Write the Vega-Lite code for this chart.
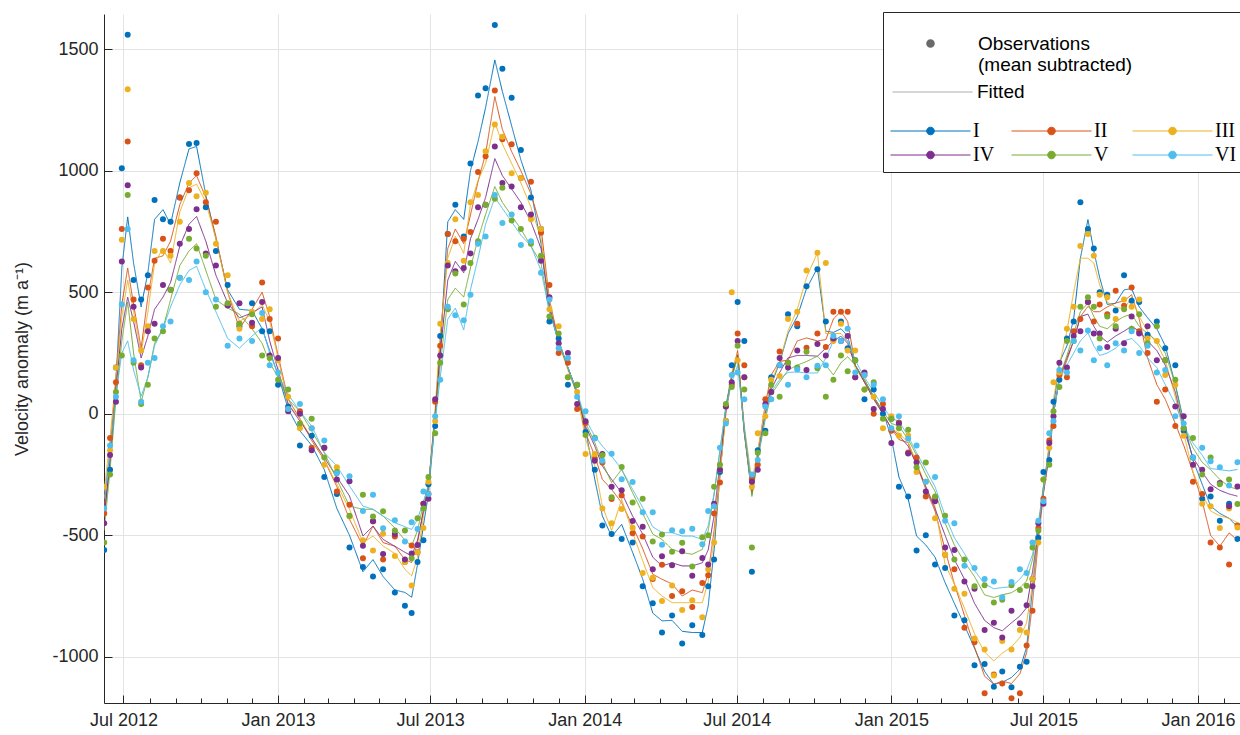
{
"$schema": "https://vega.github.io/schema/vega-lite/v6.json",
"width": 1136, "height": 689,
"autosize": {"type": "none"},
"padding": {"left": 104, "top": 14, "right": 0, "bottom": 32},
"background": "white",
"config": {"view": {"stroke": null}, "font": "Liberation Sans", "axis": {"labelFont": "Liberation Sans", "titleFont": "Liberation Sans"}},
"data": {"values": [
{"d":"2012-06-08","s":"I","f":-420,"o":-560},{"d":"2012-06-15","s":"I","f":-200,"o":-230},{"d":"2012-06-22","s":"I","f":130,"o":190},{"d":"2012-06-29","s":"I","f":600,"o":1010},{"d":"2012-07-06","s":"I","f":810,"o":1560},{"d":"2012-07-13","s":"I","f":620,"o":550},{"d":"2012-07-22","s":"I","f":440,"o":470},{"d":"2012-07-30","s":"I","f":580,"o":570},{"d":"2012-08-07","s":"I","f":800,"o":880},{"d":"2012-08-17","s":"I","f":840,"o":800},{"d":"2012-08-26","s":"I","f":780,"o":790},{"d":"2012-09-06","s":"I","f":950,"o":890},{"d":"2012-09-17","s":"I","f":1090,"o":1110},{"d":"2012-09-26","s":"I","f":1100,"o":1114},{"d":"2012-10-07","s":"I","f":900,"o":850},{"d":"2012-10-19","s":"I","f":720,"o":670},{"d":"2012-11-02","s":"I","f":510,"o":530},{"d":"2012-11-16","s":"I","f":430,"o":360},{"d":"2012-12-01","s":"I","f":425,"o":455},{"d":"2012-12-13","s":"I","f":350,"o":340},{"d":"2012-12-22","s":"I","f":260,"o":340},{"d":"2013-01-01","s":"I","f":160,"o":120},
{"d":"2013-01-13","s":"I","f":20,"o":30},{"d":"2013-01-27","s":"I","f":-70,"o":-130},{"d":"2013-02-10","s":"I","f":-130,"o":-90},{"d":"2013-02-25","s":"I","f":-230,"o":-260},{"d":"2013-03-12","s":"I","f":-390,"o":-330},{"d":"2013-03-27","s":"I","f":-500,"o":-550},{"d":"2013-04-12","s":"I","f":-650,"o":-630},{"d":"2013-04-24","s":"I","f":-600,"o":-670},{"d":"2013-05-06","s":"I","f":-670,"o":-640},{"d":"2013-05-20","s":"I","f":-725,"o":-735},{"d":"2013-06-01","s":"I","f":-735,"o":-790},{"d":"2013-06-09","s":"I","f":-755,"o":-820},{"d":"2013-06-16","s":"I","f":-620,"o":-610},{"d":"2013-06-23","s":"I","f":-460,"o":-520},{"d":"2013-06-29","s":"I","f":-330,"o":-290},
{"d":"2013-07-07","s":"I","f":-20,"o":-50},{"d":"2013-07-13","s":"I","f":260,"o":320},{"d":"2013-07-22","s":"I","f":790,"o":740},{"d":"2013-07-31","s":"I","f":840,"o":860},{"d":"2013-08-10","s":"I","f":800,"o":730},{"d":"2013-08-18","s":"I","f":1000,"o":1030},{"d":"2013-08-27","s":"I","f":1120,"o":1310},{"d":"2013-09-05","s":"I","f":1260,"o":1340},{"d":"2013-09-16","s":"I","f":1456,"o":1600},{"d":"2013-09-25","s":"I","f":1326,"o":1420},{"d":"2013-10-06","s":"I","f":1185,"o":1300},{"d":"2013-10-17","s":"I","f":1045,"o":1085},{"d":"2013-10-29","s":"I","f":920,"o":890},{"d":"2013-11-10","s":"I","f":700,"o":760},{"d":"2013-11-20","s":"I","f":430,"o":380},{"d":"2013-12-01","s":"I","f":290,"o":310},{"d":"2013-12-12","s":"I","f":190,"o":120},{"d":"2013-12-23","s":"I","f":90,"o":120},
{"d":"2014-01-02","s":"I","f":-65,"o":-75},{"d":"2014-01-13","s":"I","f":-270,"o":-230},{"d":"2014-01-22","s":"I","f":-420,"o":-460},{"d":"2014-02-02","s":"I","f":-505,"o":-495},{"d":"2014-02-14","s":"I","f":-455,"o":-515},{"d":"2014-02-27","s":"I","f":-570,"o":-530},{"d":"2014-03-11","s":"I","f":-680,"o":-710},{"d":"2014-03-23","s":"I","f":-820,"o":-780},{"d":"2014-04-03","s":"I","f":-852,"o":-900},{"d":"2014-04-15","s":"I","f":-850,"o":-830},{"d":"2014-04-27","s":"I","f":-895,"o":-945},{"d":"2014-05-09","s":"I","f":-900,"o":-870},{"d":"2014-05-21","s":"I","f":-900,"o":-910},{"d":"2014-05-28","s":"I","f":-790,"o":-710},{"d":"2014-06-04","s":"I","f":-560,"o":-600},{"d":"2014-06-11","s":"I","f":-250,"o":-240},{"d":"2014-06-18","s":"I","f":30,"o":-30},{"d":"2014-06-25","s":"I","f":160,"o":200},{"d":"2014-07-02","s":"I","f":250,"o":460},
{"d":"2014-07-10","s":"I","f":-80,"o":300},{"d":"2014-07-19","s":"I","f":-320,"o":-650},{"d":"2014-07-26","s":"I","f":-170,"o":-150},{"d":"2014-08-04","s":"I","f":0,"o":-70},{"d":"2014-08-11","s":"I","f":120,"o":150},{"d":"2014-08-21","s":"I","f":210,"o":200},{"d":"2014-08-31","s":"I","f":330,"o":410},{"d":"2014-09-11","s":"I","f":400,"o":360},{"d":"2014-09-22","s":"I","f":515,"o":525},{"d":"2014-10-05","s":"I","f":600,"o":595},{"d":"2014-10-15","s":"I","f":340,"o":380},{"d":"2014-10-24","s":"I","f":335,"o":305},{"d":"2014-11-02","s":"I","f":350,"o":380},{"d":"2014-11-10","s":"I","f":320,"o":270},{"d":"2014-11-19","s":"I","f":200,"o":220},{"d":"2014-11-30","s":"I","f":130,"o":60},{"d":"2014-12-11","s":"I","f":70,"o":100},{"d":"2014-12-22","s":"I","f":10,"o":0},{"d":"2015-01-01","s":"I","f":-100,"o":-20},
{"d":"2015-01-10","s":"I","f":-260,"o":-300},{"d":"2015-01-21","s":"I","f":-350,"o":-340},{"d":"2015-01-31","s":"I","f":-503,"o":-563},{"d":"2015-02-11","s":"I","f":-540,"o":-500},{"d":"2015-02-22","s":"I","f":-590,"o":-620},{"d":"2015-03-06","s":"I","f":-695,"o":-635},{"d":"2015-03-17","s":"I","f":-780,"o":-830},{"d":"2015-03-29","s":"I","f":-870,"o":-850},{"d":"2015-04-10","s":"I","f":-965,"o":-1035},{"d":"2015-04-22","s":"I","f":-1060,"o":-1030},{"d":"2015-05-03","s":"I","f":-1113,"o":-1123},{"d":"2015-05-13","s":"I","f":-1105,"o":-1060},{"d":"2015-05-24","s":"I","f":-1085,"o":-1125},{"d":"2015-06-03","s":"I","f":-1051,"o":-1041},{"d":"2015-06-11","s":"I","f":-960,"o":-1020},{"d":"2015-06-18","s":"I","f":-720,"o":-680},{"d":"2015-06-25","s":"I","f":-480,"o":-510},{"d":"2015-07-01","s":"I","f":-300,"o":-240},
{"d":"2015-07-08","s":"I","f":-140,"o":-190},{"d":"2015-07-13","s":"I","f":30,"o":50},{"d":"2015-07-20","s":"I","f":210,"o":140},{"d":"2015-07-29","s":"I","f":280,"o":310},{"d":"2015-08-06","s":"I","f":390,"o":380},{"d":"2015-08-14","s":"I","f":640,"o":870},{"d":"2015-08-23","s":"I","f":799,"o":760},{"d":"2015-08-30","s":"I","f":670,"o":680},{"d":"2015-09-06","s":"I","f":560,"o":500},{"d":"2015-09-15","s":"I","f":450,"o":490},{"d":"2015-09-25","s":"I","f":455,"o":425},{"d":"2015-10-05","s":"I","f":510,"o":570},{"d":"2015-10-14","s":"I","f":515,"o":465},{"d":"2015-10-23","s":"I","f":440,"o":460},{"d":"2015-11-02","s":"I","f":395,"o":325},{"d":"2015-11-13","s":"I","f":350,"o":380},{"d":"2015-11-23","s":"I","f":280,"o":270},{"d":"2015-12-05","s":"I","f":120,"o":200},{"d":"2015-12-15","s":"I","f":-30,"o":-70},{"d":"2015-12-26","s":"I","f":-190,"o":-180},{"d":"2016-01-06","s":"I","f":-290,"o":-350},{"d":"2016-01-16","s":"I","f":-380,"o":-340},{"d":"2016-01-27","s":"I","f":-410,"o":-440},{"d":"2016-02-07","s":"I","f":-430,"o":-370},{"d":"2016-02-17","s":"I","f":-465,"o":-515},

{"d":"2012-06-08","s":"II","f":-380,"o":-410},{"d":"2012-06-15","s":"II","f":-150,"o":-100},{"d":"2012-06-22","s":"II","f":150,"o":130},{"d":"2012-06-29","s":"II","f":450,"o":760},{"d":"2012-07-06","s":"II","f":600,"o":1120},{"d":"2012-07-13","s":"II","f":450,"o":470},{"d":"2012-07-22","s":"II","f":270,"o":200},{"d":"2012-07-30","s":"II","f":480,"o":520},{"d":"2012-08-07","s":"II","f":640,"o":630},{"d":"2012-08-17","s":"II","f":650,"o":720},{"d":"2012-08-26","s":"II","f":710,"o":670},{"d":"2012-09-06","s":"II","f":860,"o":890},{"d":"2012-09-17","s":"II","f":950,"o":920},{"d":"2012-09-26","s":"II","f":980,"o":990},{"d":"2012-10-07","s":"II","f":890,"o":870},{"d":"2012-10-19","s":"II","f":730,"o":790},{"d":"2012-11-02","s":"II","f":500,"o":450},{"d":"2012-11-16","s":"II","f":350,"o":370},{"d":"2012-12-01","s":"II","f":430,"o":360},{"d":"2012-12-13","s":"II","f":500,"o":540},{"d":"2012-12-22","s":"II","f":400,"o":390},{"d":"2013-01-01","s":"II","f":240,"o":310},
{"d":"2013-01-13","s":"II","f":60,"o":20},{"d":"2013-01-27","s":"II","f":-20,"o":10},{"d":"2013-02-10","s":"II","f":-110,"o":-140},{"d":"2013-02-25","s":"II","f":-190,"o":-140},{"d":"2013-03-12","s":"II","f":-300,"o":-320},{"d":"2013-03-27","s":"II","f":-434,"o":-374},{"d":"2013-04-12","s":"II","f":-544,"o":-594},{"d":"2013-04-24","s":"II","f":-462,"o":-442},{"d":"2013-05-06","s":"II","f":-530,"o":-600},{"d":"2013-05-20","s":"II","f":-545,"o":-505},{"d":"2013-06-01","s":"II","f":-600,"o":-610},{"d":"2013-06-09","s":"II","f":-612,"o":-542},{"d":"2013-06-16","s":"II","f":-530,"o":-570},{"d":"2013-06-23","s":"II","f":-400,"o":-370},{"d":"2013-06-29","s":"II","f":-300,"o":-330},
{"d":"2013-07-07","s":"II","f":0,"o":50},{"d":"2013-07-13","s":"II","f":300,"o":280},{"d":"2013-07-22","s":"II","f":680,"o":740},{"d":"2013-07-31","s":"II","f":760,"o":710},{"d":"2013-08-10","s":"II","f":700,"o":720},{"d":"2013-08-18","s":"II","f":818,"o":748},{"d":"2013-08-27","s":"II","f":955,"o":995},{"d":"2013-09-05","s":"II","f":1070,"o":1060},{"d":"2013-09-16","s":"II","f":1305,"o":1330},{"d":"2013-09-25","s":"II","f":1170,"o":1130},{"d":"2013-10-06","s":"II","f":1079,"o":1109},{"d":"2013-10-17","s":"II","f":1000,"o":970},{"d":"2013-10-29","s":"II","f":905,"o":955},{"d":"2013-11-10","s":"II","f":765,"o":745},{"d":"2013-11-20","s":"II","f":470,"o":530},{"d":"2013-12-01","s":"II","f":300,"o":250},{"d":"2013-12-12","s":"II","f":190,"o":210},{"d":"2013-12-23","s":"II","f":90,"o":20},
{"d":"2014-01-02","s":"II","f":-78,"o":-38},{"d":"2014-01-13","s":"II","f":-174,"o":-184},{"d":"2014-01-22","s":"II","f":-270,"o":-200},{"d":"2014-02-02","s":"II","f":-311,"o":-351},{"d":"2014-02-14","s":"II","f":-366,"o":-336},{"d":"2014-02-27","s":"II","f":-462,"o":-492},{"d":"2014-03-11","s":"II","f":-555,"o":-505},{"d":"2014-03-23","s":"II","f":-660,"o":-680},{"d":"2014-04-03","s":"II","f":-681,"o":-621},{"d":"2014-04-15","s":"II","f":-700,"o":-750},{"d":"2014-04-27","s":"II","f":-750,"o":-730},{"d":"2014-05-09","s":"II","f":-725,"o":-795},{"d":"2014-05-21","s":"II","f":-736,"o":-696},{"d":"2014-05-28","s":"II","f":-654,"o":-664},{"d":"2014-06-04","s":"II","f":-480,"o":-410},{"d":"2014-06-11","s":"II","f":-243,"o":-283},{"d":"2014-06-18","s":"II","f":0,"o":30},{"d":"2014-06-25","s":"II","f":150,"o":120},{"d":"2014-07-02","s":"II","f":260,"o":330},
{"d":"2014-07-10","s":"II","f":-70,"o":200},{"d":"2014-07-19","s":"II","f":-330,"o":-270},{"d":"2014-07-26","s":"II","f":-160,"o":-210},{"d":"2014-08-04","s":"II","f":40,"o":60},{"d":"2014-08-11","s":"II","f":160,"o":90},{"d":"2014-08-21","s":"II","f":216,"o":256},{"d":"2014-08-31","s":"II","f":220,"o":210},{"d":"2014-09-11","s":"II","f":300,"o":370},{"d":"2014-09-22","s":"II","f":312,"o":272},{"d":"2014-10-05","s":"II","f":300,"o":330},{"d":"2014-10-15","s":"II","f":305,"o":275},{"d":"2014-10-24","s":"II","f":390,"o":420},{"d":"2014-11-02","s":"II","f":422,"o":420},{"d":"2014-11-10","s":"II","f":380,"o":420},{"d":"2014-11-19","s":"II","f":200,"o":150},{"d":"2014-11-30","s":"II","f":140,"o":160},{"d":"2014-12-11","s":"II","f":70,"o":0},{"d":"2014-12-22","s":"II","f":0,"o":40},{"d":"2015-01-01","s":"II","f":-60,"o":-70},
{"d":"2015-01-10","s":"II","f":-106,"o":-36},{"d":"2015-01-21","s":"II","f":-119,"o":-159},{"d":"2015-01-31","s":"II","f":-210,"o":-180},{"d":"2015-02-11","s":"II","f":-310,"o":-340},{"d":"2015-02-22","s":"II","f":-400,"o":-350},{"d":"2015-03-06","s":"II","f":-560,"o":-580},{"d":"2015-03-17","s":"II","f":-700,"o":-640},{"d":"2015-03-29","s":"II","f":-830,"o":-880},{"d":"2015-04-10","s":"II","f":-960,"o":-940},{"d":"2015-04-22","s":"II","f":-1080,"o":-1150},{"d":"2015-05-03","s":"II","f":-1113,"o":-1073},{"d":"2015-05-13","s":"II","f":-1100,"o":-1110},{"d":"2015-05-24","s":"II","f":-1110,"o":-1170},{"d":"2015-06-03","s":"II","f":-1070,"o":-1150},{"d":"2015-06-11","s":"II","f":-983,"o":-953},{"d":"2015-06-18","s":"II","f":-780,"o":-810},{"d":"2015-06-25","s":"II","f":-520,"o":-470},{"d":"2015-07-01","s":"II","f":-330,"o":-350},
{"d":"2015-07-08","s":"II","f":-170,"o":-110},{"d":"2015-07-13","s":"II","f":0,"o":-50},{"d":"2015-07-20","s":"II","f":140,"o":160},{"d":"2015-07-29","s":"II","f":220,"o":150},{"d":"2015-08-06","s":"II","f":300,"o":340},{"d":"2015-08-14","s":"II","f":400,"o":390},{"d":"2015-08-23","s":"II","f":442,"o":460},{"d":"2015-08-30","s":"II","f":420,"o":380},{"d":"2015-09-06","s":"II","f":420,"o":450},{"d":"2015-09-15","s":"II","f":440,"o":410},{"d":"2015-09-25","s":"II","f":456,"o":506},{"d":"2015-10-05","s":"II","f":465,"o":445},{"d":"2015-10-14","s":"II","f":490,"o":520},{"d":"2015-10-23","s":"II","f":390,"o":340},{"d":"2015-11-02","s":"II","f":230,"o":250},{"d":"2015-11-13","s":"II","f":120,"o":50},{"d":"2015-11-23","s":"II","f":60,"o":100},{"d":"2015-12-05","s":"II","f":-40,"o":-50},{"d":"2015-12-15","s":"II","f":-130,"o":-60},{"d":"2015-12-26","s":"II","f":-240,"o":-280},{"d":"2016-01-06","s":"II","f":-360,"o":-330},{"d":"2016-01-16","s":"II","f":-500,"o":-530},{"d":"2016-01-27","s":"II","f":-545,"o":-550},{"d":"2016-02-07","s":"II","f":-490,"o":-620},{"d":"2016-02-17","s":"II","f":-520,"o":-460},

{"d":"2012-06-08","s":"III","f":-320,"o":-300},{"d":"2012-06-15","s":"III","f":-100,"o":-150},{"d":"2012-06-22","s":"III","f":150,"o":190},{"d":"2012-06-29","s":"III","f":400,"o":716},{"d":"2012-07-06","s":"III","f":550,"o":1335},{"d":"2012-07-13","s":"III","f":420,"o":390},{"d":"2012-07-22","s":"III","f":250,"o":260},{"d":"2012-07-30","s":"III","f":420,"o":360},{"d":"2012-08-07","s":"III","f":620,"o":670},{"d":"2012-08-17","s":"III","f":680,"o":670},{"d":"2012-08-26","s":"III","f":620,"o":650},{"d":"2012-09-06","s":"III","f":830,"o":790},{"d":"2012-09-17","s":"III","f":930,"o":950},{"d":"2012-09-26","s":"III","f":945,"o":895},{"d":"2012-10-07","s":"III","f":870,"o":910},{"d":"2012-10-19","s":"III","f":720,"o":700},{"d":"2012-11-02","s":"III","f":500,"o":570},{"d":"2012-11-16","s":"III","f":380,"o":350},{"d":"2012-12-01","s":"III","f":410,"o":420},{"d":"2012-12-13","s":"III","f":450,"o":390},{"d":"2012-12-22","s":"III","f":380,"o":430},{"d":"2013-01-01","s":"III","f":230,"o":220},
{"d":"2013-01-13","s":"III","f":40,"o":70},{"d":"2013-01-27","s":"III","f":-20,"o":-60},{"d":"2013-02-10","s":"III","f":-100,"o":-60},{"d":"2013-02-25","s":"III","f":-190,"o":-210},{"d":"2013-03-12","s":"III","f":-290,"o":-220},{"d":"2013-03-27","s":"III","f":-393,"o":-423},{"d":"2013-04-12","s":"III","f":-530,"o":-520},{"d":"2013-04-24","s":"III","f":-503,"o":-563},{"d":"2013-05-06","s":"III","f":-544,"o":-494},{"d":"2013-05-20","s":"III","f":-575,"o":-585},{"d":"2013-06-01","s":"III","f":-640,"o":-610},{"d":"2013-06-09","s":"III","f":-667,"o":-707},{"d":"2013-06-16","s":"III","f":-590,"o":-570},{"d":"2013-06-23","s":"III","f":-420,"o":-470},{"d":"2013-06-29","s":"III","f":-300,"o":-280},
{"d":"2013-07-07","s":"III","f":20,"o":-30},{"d":"2013-07-13","s":"III","f":330,"o":370},{"d":"2013-07-22","s":"III","f":640,"o":620},{"d":"2013-07-31","s":"III","f":730,"o":800},{"d":"2013-08-10","s":"III","f":660,"o":630},{"d":"2013-08-18","s":"III","f":860,"o":870},{"d":"2013-08-27","s":"III","f":960,"o":900},{"d":"2013-09-05","s":"III","f":1030,"o":1080},{"d":"2013-09-16","s":"III","f":1200,"o":1190},{"d":"2013-09-25","s":"III","f":1110,"o":1140},{"d":"2013-10-06","s":"III","f":1030,"o":990},{"d":"2013-10-17","s":"III","f":950,"o":970},{"d":"2013-10-29","s":"III","f":850,"o":800},{"d":"2013-11-10","s":"III","f":720,"o":760},{"d":"2013-11-20","s":"III","f":450,"o":430},{"d":"2013-12-01","s":"III","f":290,"o":360},{"d":"2013-12-12","s":"III","f":180,"o":150},{"d":"2013-12-23","s":"III","f":80,"o":90},
{"d":"2014-01-02","s":"III","f":-105,"o":-165},{"d":"2014-01-13","s":"III","f":-215,"o":-165},{"d":"2014-01-22","s":"III","f":-380,"o":-390},{"d":"2014-02-02","s":"III","f":-480,"o":-450},{"d":"2014-02-14","s":"III","f":-352,"o":-392},{"d":"2014-02-27","s":"III","f":-489,"o":-469},{"d":"2014-03-11","s":"III","f":-605,"o":-655},{"d":"2014-03-23","s":"III","f":-715,"o":-675},{"d":"2014-04-03","s":"III","f":-750,"o":-770},{"d":"2014-04-15","s":"III","f":-777,"o":-707},{"d":"2014-04-27","s":"III","f":-777,"o":-807},{"d":"2014-05-09","s":"III","f":-777,"o":-767},{"d":"2014-05-21","s":"III","f":-777,"o":-837},{"d":"2014-05-28","s":"III","f":-690,"o":-640},{"d":"2014-06-04","s":"III","f":-520,"o":-530},{"d":"2014-06-11","s":"III","f":-260,"o":-230},{"d":"2014-06-18","s":"III","f":10,"o":-30},{"d":"2014-06-25","s":"III","f":170,"o":500},{"d":"2014-07-02","s":"III","f":250,"o":220},
{"d":"2014-07-10","s":"III","f":-50,"o":150},{"d":"2014-07-19","s":"III","f":-280,"o":-300},{"d":"2014-07-26","s":"III","f":-150,"o":-80},{"d":"2014-08-04","s":"III","f":20,"o":-10},{"d":"2014-08-11","s":"III","f":130,"o":140},{"d":"2014-08-21","s":"III","f":215,"o":155},{"d":"2014-08-31","s":"III","f":340,"o":390},{"d":"2014-09-11","s":"III","f":430,"o":420},{"d":"2014-09-22","s":"III","f":560,"o":590},{"d":"2014-10-05","s":"III","f":663,"o":663},{"d":"2014-10-15","s":"III","f":330,"o":620},{"d":"2014-10-24","s":"III","f":330,"o":300},{"d":"2014-11-02","s":"III","f":330,"o":370},{"d":"2014-11-10","s":"III","f":300,"o":260},{"d":"2014-11-19","s":"III","f":190,"o":260},{"d":"2014-11-30","s":"III","f":130,"o":100},{"d":"2014-12-11","s":"III","f":60,"o":70},{"d":"2014-12-22","s":"III","f":0,"o":-60},{"d":"2015-01-01","s":"III","f":-60,"o":-10},
{"d":"2015-01-10","s":"III","f":-80,"o":-90},{"d":"2015-01-21","s":"III","f":-119,"o":-89},{"d":"2015-01-31","s":"III","f":-200,"o":-240},{"d":"2015-02-11","s":"III","f":-300,"o":-280},{"d":"2015-02-22","s":"III","f":-380,"o":-430},{"d":"2015-03-06","s":"III","f":-620,"o":-580},{"d":"2015-03-17","s":"III","f":-700,"o":-720},{"d":"2015-03-29","s":"III","f":-800,"o":-740},{"d":"2015-04-10","s":"III","f":-905,"o":-925},{"d":"2015-04-22","s":"III","f":-980,"o":-970},{"d":"2015-05-03","s":"III","f":-1017,"o":-1077},{"d":"2015-05-13","s":"III","f":-985,"o":-935},{"d":"2015-05-24","s":"III","f":-960,"o":-970},{"d":"2015-06-03","s":"III","f":-920,"o":-890},{"d":"2015-06-11","s":"III","f":-860,"o":-900},{"d":"2015-06-18","s":"III","f":-700,"o":-680},{"d":"2015-06-25","s":"III","f":-480,"o":-530},{"d":"2015-07-01","s":"III","f":-310,"o":-270},
{"d":"2015-07-08","s":"III","f":-120,"o":-140},{"d":"2015-07-13","s":"III","f":60,"o":130},{"d":"2015-07-20","s":"III","f":200,"o":170},{"d":"2015-07-29","s":"III","f":340,"o":350},{"d":"2015-08-06","s":"III","f":500,"o":440},{"d":"2015-08-14","s":"III","f":640,"o":690},{"d":"2015-08-23","s":"III","f":640,"o":740},{"d":"2015-08-30","s":"III","f":620,"o":650},{"d":"2015-09-06","s":"III","f":530,"o":490},{"d":"2015-09-15","s":"III","f":460,"o":480},{"d":"2015-09-25","s":"III","f":440,"o":390},{"d":"2015-10-05","s":"III","f":430,"o":470},{"d":"2015-10-14","s":"III","f":480,"o":440},{"d":"2015-10-23","s":"III","f":400,"o":470},{"d":"2015-11-02","s":"III","f":340,"o":310},{"d":"2015-11-13","s":"III","f":290,"o":300},{"d":"2015-11-23","s":"III","f":220,"o":160},{"d":"2015-12-05","s":"III","f":70,"o":120},{"d":"2015-12-15","s":"III","f":-80,"o":-90},{"d":"2015-12-26","s":"III","f":-240,"o":-210},{"d":"2016-01-06","s":"III","f":-330,"o":-370},{"d":"2016-01-16","s":"III","f":-400,"o":-380},{"d":"2016-01-27","s":"III","f":-420,"o":-470},{"d":"2016-02-07","s":"III","f":-430,"o":-390},{"d":"2016-02-17","s":"III","f":-448,"o":-468},

{"d":"2012-06-08","s":"IV","f":-430,"o":-450},{"d":"2012-06-15","s":"IV","f":-200,"o":-170},{"d":"2012-06-22","s":"IV","f":100,"o":50},{"d":"2012-06-29","s":"IV","f":350,"o":627},{"d":"2012-07-06","s":"IV","f":480,"o":940},{"d":"2012-07-13","s":"IV","f":380,"o":440},{"d":"2012-07-22","s":"IV","f":230,"o":190},{"d":"2012-07-30","s":"IV","f":320,"o":340},{"d":"2012-08-07","s":"IV","f":430,"o":370},{"d":"2012-08-17","s":"IV","f":480,"o":530},{"d":"2012-08-26","s":"IV","f":540,"o":510},{"d":"2012-09-06","s":"IV","f":690,"o":700},{"d":"2012-09-17","s":"IV","f":780,"o":760},{"d":"2012-09-26","s":"IV","f":812,"o":842},{"d":"2012-10-07","s":"IV","f":710,"o":660},{"d":"2012-10-19","s":"IV","f":570,"o":610},{"d":"2012-11-02","s":"IV","f":456,"o":446},{"d":"2012-11-16","s":"IV","f":395,"o":455},{"d":"2012-12-01","s":"IV","f":415,"o":375},{"d":"2012-12-13","s":"IV","f":440,"o":460},{"d":"2012-12-22","s":"IV","f":300,"o":240},{"d":"2013-01-01","s":"IV","f":180,"o":230},
{"d":"2013-01-13","s":"IV","f":40,"o":10},{"d":"2013-01-27","s":"IV","f":-30,"o":0},{"d":"2013-02-10","s":"IV","f":-100,"o":-150},{"d":"2013-02-25","s":"IV","f":-180,"o":-140},{"d":"2013-03-12","s":"IV","f":-260,"o":-270},{"d":"2013-03-27","s":"IV","f":-338,"o":-278},{"d":"2013-04-12","s":"IV","f":-503,"o":-543},{"d":"2013-04-24","s":"IV","f":-462,"o":-442},{"d":"2013-05-06","s":"IV","f":-517,"o":-577},{"d":"2013-05-20","s":"IV","f":-545,"o":-495},{"d":"2013-06-01","s":"IV","f":-570,"o":-600},{"d":"2013-06-09","s":"IV","f":-585,"o":-575},{"d":"2013-06-16","s":"IV","f":-520,"o":-540},{"d":"2013-06-23","s":"IV","f":-400,"o":-370},{"d":"2013-06-29","s":"IV","f":-300,"o":-350},
{"d":"2013-07-07","s":"IV","f":0,"o":60},{"d":"2013-07-13","s":"IV","f":250,"o":240},{"d":"2013-07-22","s":"IV","f":550,"o":610},{"d":"2013-07-31","s":"IV","f":627,"o":587},{"d":"2013-08-10","s":"IV","f":580,"o":600},{"d":"2013-08-18","s":"IV","f":720,"o":660},{"d":"2013-08-27","s":"IV","f":800,"o":850},{"d":"2013-09-05","s":"IV","f":890,"o":860},{"d":"2013-09-16","s":"IV","f":1050,"o":1100},{"d":"2013-09-25","s":"IV","f":980,"o":950},{"d":"2013-10-06","s":"IV","f":925,"o":935},{"d":"2013-10-17","s":"IV","f":870,"o":850},{"d":"2013-10-29","s":"IV","f":790,"o":820},{"d":"2013-11-10","s":"IV","f":680,"o":630},{"d":"2013-11-20","s":"IV","f":440,"o":480},{"d":"2013-12-01","s":"IV","f":300,"o":290},{"d":"2013-12-12","s":"IV","f":190,"o":250},{"d":"2013-12-23","s":"IV","f":80,"o":40},
{"d":"2014-01-02","s":"IV","f":-51,"o":-31},{"d":"2014-01-13","s":"IV","f":-133,"o":-193},{"d":"2014-01-22","s":"IV","f":-215,"o":-165},{"d":"2014-02-02","s":"IV","f":-270,"o":-300},{"d":"2014-02-14","s":"IV","f":-325,"o":-315},{"d":"2014-02-27","s":"IV","f":-421,"o":-441},{"d":"2014-03-11","s":"IV","f":-495,"o":-465},{"d":"2014-03-23","s":"IV","f":-590,"o":-640},{"d":"2014-04-03","s":"IV","f":-626,"o":-586},{"d":"2014-04-15","s":"IV","f":-613,"o":-623},{"d":"2014-04-27","s":"IV","f":-626,"o":-566},{"d":"2014-05-09","s":"IV","f":-626,"o":-666},{"d":"2014-05-21","s":"IV","f":-613,"o":-593},{"d":"2014-05-28","s":"IV","f":-560,"o":-620},{"d":"2014-06-04","s":"IV","f":-420,"o":-370},{"d":"2014-06-11","s":"IV","f":-200,"o":-230},{"d":"2014-06-18","s":"IV","f":20,"o":30},{"d":"2014-06-25","s":"IV","f":150,"o":130},{"d":"2014-07-02","s":"IV","f":240,"o":300},
{"d":"2014-07-10","s":"IV","f":-70,"o":150},{"d":"2014-07-19","s":"IV","f":-330,"o":-280},{"d":"2014-07-26","s":"IV","f":-180,"o":-230},{"d":"2014-08-04","s":"IV","f":0,"o":40},{"d":"2014-08-11","s":"IV","f":100,"o":90},{"d":"2014-08-21","s":"IV","f":170,"o":230},{"d":"2014-08-31","s":"IV","f":230,"o":190},{"d":"2014-09-11","s":"IV","f":240,"o":260},{"d":"2014-09-22","s":"IV","f":240,"o":180},{"d":"2014-10-05","s":"IV","f":237,"o":287},{"d":"2014-10-15","s":"IV","f":270,"o":240},{"d":"2014-10-24","s":"IV","f":300,"o":310},{"d":"2014-11-02","s":"IV","f":319,"o":299},{"d":"2014-11-10","s":"IV","f":290,"o":320},{"d":"2014-11-19","s":"IV","f":200,"o":150},{"d":"2014-11-30","s":"IV","f":130,"o":170},{"d":"2014-12-11","s":"IV","f":60,"o":20},{"d":"2014-12-22","s":"IV","f":0,"o":20},{"d":"2015-01-01","s":"IV","f":-60,"o":-120},
{"d":"2015-01-10","s":"IV","f":-90,"o":-40},{"d":"2015-01-21","s":"IV","f":-133,"o":-163},{"d":"2015-01-31","s":"IV","f":-210,"o":-200},{"d":"2015-02-11","s":"IV","f":-300,"o":-320},{"d":"2015-02-22","s":"IV","f":-390,"o":-360},{"d":"2015-03-06","s":"IV","f":-500,"o":-550},{"d":"2015-03-17","s":"IV","f":-600,"o":-560},{"d":"2015-03-29","s":"IV","f":-680,"o":-690},{"d":"2015-04-10","s":"IV","f":-780,"o":-720},{"d":"2015-04-22","s":"IV","f":-850,"o":-890},{"d":"2015-05-03","s":"IV","f":-880,"o":-860},{"d":"2015-05-13","s":"IV","f":-893,"o":-920},{"d":"2015-05-24","s":"IV","f":-860,"o":-810},{"d":"2015-06-03","s":"IV","f":-832,"o":-862},{"d":"2015-06-11","s":"IV","f":-798,"o":-788},{"d":"2015-06-18","s":"IV","f":-650,"o":-710},{"d":"2015-06-25","s":"IV","f":-480,"o":-450},{"d":"2015-07-01","s":"IV","f":-320,"o":-370},
{"d":"2015-07-08","s":"IV","f":-160,"o":-120},{"d":"2015-07-13","s":"IV","f":0,"o":-10},{"d":"2015-07-20","s":"IV","f":150,"o":210},{"d":"2015-07-29","s":"IV","f":230,"o":190},{"d":"2015-08-06","s":"IV","f":300,"o":320},{"d":"2015-08-14","s":"IV","f":400,"o":340},{"d":"2015-08-23","s":"IV","f":410,"o":460},{"d":"2015-08-30","s":"IV","f":360,"o":330},{"d":"2015-09-06","s":"IV","f":320,"o":330},{"d":"2015-09-15","s":"IV","f":295,"o":275},{"d":"2015-09-25","s":"IV","f":320,"o":350},{"d":"2015-10-05","s":"IV","f":340,"o":290},{"d":"2015-10-14","s":"IV","f":360,"o":400},{"d":"2015-10-23","s":"IV","f":340,"o":330},{"d":"2015-11-02","s":"IV","f":300,"o":360},{"d":"2015-11-13","s":"IV","f":260,"o":220},{"d":"2015-11-23","s":"IV","f":200,"o":220},{"d":"2015-12-05","s":"IV","f":90,"o":30},{"d":"2015-12-15","s":"IV","f":-60,"o":-10},{"d":"2015-12-26","s":"IV","f":-180,"o":-210},{"d":"2016-01-06","s":"IV","f":-240,"o":-230},{"d":"2016-01-16","s":"IV","f":-290,"o":-310},{"d":"2016-01-27","s":"IV","f":-315,"o":-285},{"d":"2016-02-07","s":"IV","f":-330,"o":-380},{"d":"2016-02-17","s":"IV","f":-339,"o":-299},

{"d":"2012-06-08","s":"V","f":-480,"o":-530},{"d":"2012-06-15","s":"V","f":-230,"o":-250},{"d":"2012-06-22","s":"V","f":60,"o":90},{"d":"2012-06-29","s":"V","f":300,"o":240},{"d":"2012-07-06","s":"V","f":460,"o":900},{"d":"2012-07-13","s":"V","f":250,"o":210},{"d":"2012-07-22","s":"V","f":50,"o":40},{"d":"2012-07-30","s":"V","f":150,"o":120},{"d":"2012-08-07","s":"V","f":290,"o":310},{"d":"2012-08-17","s":"V","f":350,"o":340},{"d":"2012-08-26","s":"V","f":470,"o":510},{"d":"2012-09-06","s":"V","f":610,"o":560},{"d":"2012-09-17","s":"V","f":670,"o":720},{"d":"2012-09-26","s":"V","f":700,"o":680},{"d":"2012-10-07","s":"V","f":590,"o":650},{"d":"2012-10-19","s":"V","f":470,"o":440},{"d":"2012-11-02","s":"V","f":435,"o":455},{"d":"2012-11-16","s":"V","f":410,"o":370},{"d":"2012-12-01","s":"V","f":350,"o":410},{"d":"2012-12-13","s":"V","f":290,"o":240},{"d":"2012-12-22","s":"V","f":210,"o":230},{"d":"2013-01-01","s":"V","f":150,"o":140},
{"d":"2013-01-13","s":"V","f":60,"o":100},{"d":"2013-01-27","s":"V","f":10,"o":-40},{"d":"2013-02-10","s":"V","f":-70,"o":-20},{"d":"2013-02-25","s":"V","f":-160,"o":-180},{"d":"2013-03-12","s":"V","f":-270,"o":-240},{"d":"2013-03-27","s":"V","f":-380,"o":-420},{"d":"2013-04-12","s":"V","f":-393,"o":-333},{"d":"2013-04-24","s":"V","f":-393,"o":-423},{"d":"2013-05-06","s":"V","f":-421,"o":-401},{"d":"2013-05-20","s":"V","f":-470,"o":-480},{"d":"2013-06-01","s":"V","f":-520,"o":-480},{"d":"2013-06-09","s":"V","f":-544,"o":-594},{"d":"2013-06-16","s":"V","f":-480,"o":-430},{"d":"2013-06-23","s":"V","f":-370,"o":-390},{"d":"2013-06-29","s":"V","f":-290,"o":-260},
{"d":"2013-07-07","s":"V","f":-20,"o":-80},{"d":"2013-07-13","s":"V","f":200,"o":210},{"d":"2013-07-22","s":"V","f":470,"o":430},{"d":"2013-07-31","s":"V","f":517,"o":577},{"d":"2013-08-10","s":"V","f":480,"o":450},{"d":"2013-08-18","s":"V","f":600,"o":620},{"d":"2013-08-27","s":"V","f":720,"o":710},{"d":"2013-09-05","s":"V","f":820,"o":860},{"d":"2013-09-16","s":"V","f":935,"o":885},{"d":"2013-09-25","s":"V","f":870,"o":930},{"d":"2013-10-06","s":"V","f":815,"o":795},{"d":"2013-10-17","s":"V","f":760,"o":760},{"d":"2013-10-29","s":"V","f":690,"o":700},{"d":"2013-11-10","s":"V","f":620,"o":650},{"d":"2013-11-20","s":"V","f":420,"o":400},{"d":"2013-12-01","s":"V","f":300,"o":330},{"d":"2013-12-12","s":"V","f":190,"o":150},{"d":"2013-12-23","s":"V","f":80,"o":120},
{"d":"2014-01-02","s":"V","f":-37,"o":-87},{"d":"2014-01-13","s":"V","f":-119,"o":-99},{"d":"2014-01-22","s":"V","f":-201,"o":-171},{"d":"2014-02-02","s":"V","f":-283,"o":-343},{"d":"2014-02-14","s":"V","f":-229,"o":-219},{"d":"2014-02-27","s":"V","f":-325,"o":-365},{"d":"2014-03-11","s":"V","f":-410,"o":-350},{"d":"2014-03-23","s":"V","f":-495,"o":-525},{"d":"2014-04-03","s":"V","f":-517,"o":-497},{"d":"2014-04-15","s":"V","f":-558,"o":-568},{"d":"2014-04-27","s":"V","f":-571,"o":-531},{"d":"2014-05-09","s":"V","f":-578,"o":-628},{"d":"2014-05-21","s":"V","f":-558,"o":-508},{"d":"2014-05-28","s":"V","f":-480,"o":-500},{"d":"2014-06-04","s":"V","f":-330,"o":-300},{"d":"2014-06-11","s":"V","f":-150,"o":-210},{"d":"2014-06-18","s":"V","f":30,"o":40},{"d":"2014-06-25","s":"V","f":150,"o":110},{"d":"2014-07-02","s":"V","f":230,"o":280},
{"d":"2014-07-10","s":"V","f":-80,"o":100},{"d":"2014-07-19","s":"V","f":-340,"o":-550},{"d":"2014-07-26","s":"V","f":-190,"o":-160},{"d":"2014-08-04","s":"V","f":-20,"o":-80},{"d":"2014-08-11","s":"V","f":80,"o":120},{"d":"2014-08-21","s":"V","f":130,"o":70},{"d":"2014-08-31","s":"V","f":180,"o":210},{"d":"2014-09-11","s":"V","f":200,"o":190},{"d":"2014-09-22","s":"V","f":215,"o":255},{"d":"2014-10-05","s":"V","f":237,"o":187},{"d":"2014-10-15","s":"V","f":200,"o":70},{"d":"2014-10-24","s":"V","f":160,"o":140},{"d":"2014-11-02","s":"V","f":210,"o":240},{"d":"2014-11-10","s":"V","f":235,"o":175},{"d":"2014-11-19","s":"V","f":200,"o":220},{"d":"2014-11-30","s":"V","f":140,"o":100},{"d":"2014-12-11","s":"V","f":70,"o":130},{"d":"2014-12-22","s":"V","f":10,"o":-20},{"d":"2015-01-01","s":"V","f":-40,"o":-20},
{"d":"2015-01-10","s":"V","f":-50,"o":-60},{"d":"2015-01-21","s":"V","f":-106,"o":-66},{"d":"2015-01-31","s":"V","f":-170,"o":-220},{"d":"2015-02-11","s":"V","f":-250,"o":-200},{"d":"2015-02-22","s":"V","f":-320,"o":-340},{"d":"2015-03-06","s":"V","f":-450,"o":-420},{"d":"2015-03-17","s":"V","f":-540,"o":-600},{"d":"2015-03-29","s":"V","f":-610,"o":-600},{"d":"2015-04-10","s":"V","f":-670,"o":-710},{"d":"2015-04-22","s":"V","f":-745,"o":-705},{"d":"2015-05-03","s":"V","f":-756,"o":-776},{"d":"2015-05-13","s":"V","f":-745,"o":-765},{"d":"2015-05-24","s":"V","f":-736,"o":-706},{"d":"2015-06-03","s":"V","f":-715,"o":-725},{"d":"2015-06-11","s":"V","f":-688,"o":-708},{"d":"2015-06-18","s":"V","f":-600,"o":-550},{"d":"2015-06-25","s":"V","f":-450,"o":-480},{"d":"2015-07-01","s":"V","f":-300,"o":-270},
{"d":"2015-07-08","s":"V","f":-150,"o":-210},{"d":"2015-07-13","s":"V","f":0,"o":10},{"d":"2015-07-20","s":"V","f":150,"o":110},{"d":"2015-07-29","s":"V","f":240,"o":300},{"d":"2015-08-06","s":"V","f":330,"o":300},{"d":"2015-08-14","s":"V","f":420,"o":440},{"d":"2015-08-23","s":"V","f":456,"o":480},{"d":"2015-08-30","s":"V","f":400,"o":440},{"d":"2015-09-06","s":"V","f":360,"o":310},{"d":"2015-09-15","s":"V","f":350,"o":400},{"d":"2015-09-25","s":"V","f":380,"o":360},{"d":"2015-10-05","s":"V","f":400,"o":430},{"d":"2015-10-14","s":"V","f":410,"o":350},{"d":"2015-10-23","s":"V","f":360,"o":410},{"d":"2015-11-02","s":"V","f":330,"o":290},{"d":"2015-11-13","s":"V","f":300,"o":360},{"d":"2015-11-23","s":"V","f":250,"o":220},{"d":"2015-12-05","s":"V","f":120,"o":140},{"d":"2015-12-15","s":"V","f":-50,"o":-60},{"d":"2015-12-26","s":"V","f":-140,"o":-100},{"d":"2016-01-06","s":"V","f":-200,"o":-250},{"d":"2016-01-16","s":"V","f":-230,"o":-180},{"d":"2016-01-27","s":"V","f":-270,"o":-290},{"d":"2016-02-07","s":"V","f":-300,"o":-270},{"d":"2016-02-17","s":"V","f":-311,"o":-371},

{"d":"2012-06-08","s":"VI","f":-350,"o":-390},{"d":"2012-06-15","s":"VI","f":-150,"o":-130},{"d":"2012-06-22","s":"VI","f":80,"o":70},{"d":"2012-06-29","s":"VI","f":250,"o":450},{"d":"2012-07-06","s":"VI","f":300,"o":760},{"d":"2012-07-13","s":"VI","f":180,"o":220},{"d":"2012-07-22","s":"VI","f":72,"o":50},{"d":"2012-07-30","s":"VI","f":150,"o":210},{"d":"2012-08-07","s":"VI","f":280,"o":230},{"d":"2012-08-17","s":"VI","f":350,"o":360},{"d":"2012-08-26","s":"VI","f":440,"o":380},{"d":"2012-09-06","s":"VI","f":530,"o":560},{"d":"2012-09-17","s":"VI","f":590,"o":550},{"d":"2012-09-26","s":"VI","f":607,"o":627},{"d":"2012-10-07","s":"VI","f":510,"o":500},{"d":"2012-10-19","s":"VI","f":420,"o":470},{"d":"2012-11-02","s":"VI","f":310,"o":280},{"d":"2012-11-16","s":"VI","f":270,"o":310},{"d":"2012-12-01","s":"VI","f":320,"o":300},{"d":"2012-12-13","s":"VI","f":355,"o":415},{"d":"2012-12-22","s":"VI","f":250,"o":200},{"d":"2013-01-01","s":"VI","f":160,"o":170},
{"d":"2013-01-13","s":"VI","f":80,"o":20},{"d":"2013-01-27","s":"VI","f":10,"o":40},{"d":"2013-02-10","s":"VI","f":-50,"o":-60},{"d":"2013-02-25","s":"VI","f":-160,"o":-110},{"d":"2013-03-12","s":"VI","f":-215,"o":-245},{"d":"2013-03-27","s":"VI","f":-297,"o":-257},{"d":"2013-04-12","s":"VI","f":-380,"o":-400},{"d":"2013-04-24","s":"VI","f":-393,"o":-333},{"d":"2013-05-06","s":"VI","f":-421,"o":-471},{"d":"2013-05-20","s":"VI","f":-448,"o":-438},{"d":"2013-06-01","s":"VI","f":-465,"o":-525},{"d":"2013-06-09","s":"VI","f":-476,"o":-446},{"d":"2013-06-16","s":"VI","f":-434,"o":-474},{"d":"2013-06-23","s":"VI","f":-360,"o":-320},{"d":"2013-06-29","s":"VI","f":-300,"o":-330},
{"d":"2013-07-07","s":"VI","f":-30,"o":-10},{"d":"2013-07-13","s":"VI","f":150,"o":140},{"d":"2013-07-22","s":"VI","f":390,"o":440},{"d":"2013-07-31","s":"VI","f":435,"o":405},{"d":"2013-08-10","s":"VI","f":345,"o":385},{"d":"2013-08-18","s":"VI","f":510,"o":490},{"d":"2013-08-27","s":"VI","f":640,"o":700},{"d":"2013-09-05","s":"VI","f":780,"o":730},{"d":"2013-09-16","s":"VI","f":890,"o":900},{"d":"2013-09-25","s":"VI","f":845,"o":785},{"d":"2013-10-06","s":"VI","f":790,"o":820},{"d":"2013-10-17","s":"VI","f":735,"o":695},{"d":"2013-10-29","s":"VI","f":690,"o":710},{"d":"2013-11-10","s":"VI","f":590,"o":580},{"d":"2013-11-20","s":"VI","f":420,"o":470},{"d":"2013-12-01","s":"VI","f":300,"o":270},{"d":"2013-12-12","s":"VI","f":190,"o":230},{"d":"2013-12-23","s":"VI","f":90,"o":70},
{"d":"2014-01-02","s":"VI","f":-23,"o":10},{"d":"2014-01-13","s":"VI","f":-92,"o":-102},{"d":"2014-01-22","s":"VI","f":-133,"o":-193},{"d":"2014-02-02","s":"VI","f":-174,"o":-164},{"d":"2014-02-14","s":"VI","f":-229,"o":-269},{"d":"2014-02-27","s":"VI","f":-311,"o":-281},{"d":"2014-03-11","s":"VI","f":-385,"o":-405},{"d":"2014-03-23","s":"VI","f":-465,"o":-405},{"d":"2014-04-03","s":"VI","f":-489,"o":-539},{"d":"2014-04-15","s":"VI","f":-489,"o":-479},{"d":"2014-04-27","s":"VI","f":-503,"o":-483},{"d":"2014-05-09","s":"VI","f":-503,"o":-473},{"d":"2014-05-21","s":"VI","f":-517,"o":-537},{"d":"2014-05-28","s":"VI","f":-460,"o":-400},{"d":"2014-06-04","s":"VI","f":-330,"o":-380},{"d":"2014-06-11","s":"VI","f":-150,"o":-140},{"d":"2014-06-18","s":"VI","f":20,"o":-40},{"d":"2014-06-25","s":"VI","f":130,"o":160},{"d":"2014-07-02","s":"VI","f":200,"o":170},
{"d":"2014-07-10","s":"VI","f":-60,"o":60},{"d":"2014-07-19","s":"VI","f":-300,"o":-250},{"d":"2014-07-26","s":"VI","f":-180,"o":-190},{"d":"2014-08-04","s":"VI","f":-10,"o":30},{"d":"2014-08-11","s":"VI","f":90,"o":60},{"d":"2014-08-21","s":"VI","f":141,"o":201},{"d":"2014-08-31","s":"VI","f":170,"o":120},{"d":"2014-09-11","s":"VI","f":172,"o":182},{"d":"2014-09-22","s":"VI","f":168,"o":150},{"d":"2014-10-05","s":"VI","f":168,"o":198},{"d":"2014-10-15","s":"VI","f":230,"o":200},{"d":"2014-10-24","s":"VI","f":300,"o":320},{"d":"2014-11-02","s":"VI","f":319,"o":299},{"d":"2014-11-10","s":"VI","f":300,"o":350},{"d":"2014-11-19","s":"VI","f":220,"o":170},{"d":"2014-11-30","s":"VI","f":150,"o":160},{"d":"2014-12-11","s":"VI","f":90,"o":120},{"d":"2014-12-22","s":"VI","f":30,"o":60},{"d":"2015-01-01","s":"VI","f":-20,"o":-60},
{"d":"2015-01-10","s":"VI","f":-30,"o":-10},{"d":"2015-01-21","s":"VI","f":-92,"o":-102},{"d":"2015-01-31","s":"VI","f":-160,"o":-130},{"d":"2015-02-11","s":"VI","f":-230,"o":-280},{"d":"2015-02-22","s":"VI","f":-300,"o":-260},{"d":"2015-03-06","s":"VI","f":-420,"o":-440},{"d":"2015-03-17","s":"VI","f":-510,"o":-450},{"d":"2015-03-29","s":"VI","f":-575,"o":-625},{"d":"2015-04-10","s":"VI","f":-645,"o":-635},{"d":"2015-04-22","s":"VI","f":-700,"o":-680},{"d":"2015-05-03","s":"VI","f":-720,"o":-690},{"d":"2015-05-13","s":"VI","f":-715,"o":-755},{"d":"2015-05-24","s":"VI","f":-712,"o":-692},{"d":"2015-06-03","s":"VI","f":-680,"o":-640},{"d":"2015-06-11","s":"VI","f":-645,"o":-655},{"d":"2015-06-18","s":"VI","f":-580,"o":-530},{"d":"2015-06-25","s":"VI","f":-460,"o":-440},{"d":"2015-07-01","s":"VI","f":-320,"o":-360},
{"d":"2015-07-08","s":"VI","f":-130,"o":-80},{"d":"2015-07-13","s":"VI","f":0,"o":-30},{"d":"2015-07-20","s":"VI","f":140,"o":180},{"d":"2015-07-29","s":"VI","f":200,"o":170},{"d":"2015-08-06","s":"VI","f":250,"o":300},{"d":"2015-08-14","s":"VI","f":300,"o":260},{"d":"2015-08-23","s":"VI","f":333,"o":343},{"d":"2015-08-30","s":"VI","f":280,"o":220},{"d":"2015-09-06","s":"VI","f":240,"o":270},{"d":"2015-09-15","s":"VI","f":250,"o":200},{"d":"2015-09-25","s":"VI","f":270,"o":290},{"d":"2015-10-05","s":"VI","f":300,"o":260},{"d":"2015-10-14","s":"VI","f":310,"o":340},{"d":"2015-10-23","s":"VI","f":280,"o":250},{"d":"2015-11-02","s":"VI","f":230,"o":280},{"d":"2015-11-13","s":"VI","f":190,"o":170},{"d":"2015-11-23","s":"VI","f":120,"o":180},{"d":"2015-12-05","s":"VI","f":40,"o":-10},{"d":"2015-12-15","s":"VI","f":-50,"o":-40},{"d":"2015-12-26","s":"VI","f":-120,"o":-180},{"d":"2016-01-06","s":"VI","f":-170,"o":-140},{"d":"2016-01-16","s":"VI","f":-225,"o":-195},{"d":"2016-01-27","s":"VI","f":-230,"o":-220},{"d":"2016-02-07","s":"VI","f":-235,"o":-295},{"d":"2016-02-17","s":"VI","f":-229,"o":-199}
]},
"layer": [
{
"mark": {"type": "line", "strokeWidth": 1, "clip": true},
"encoding": {
"x": {"field": "d", "type": "temporal",
"scale": {"type": "utc", "domain": [{"year": 2012, "month": 6, "date": 7, "hours": 19, "utc": true}, {"year": 2016, "month": 2, "date": 20, "utc": true}]},
"axis": {"orient": "bottom", "tickCount": {"interval": "month", "step": 6}, "format": "%b %Y", "grid": true, "gridColor": "#e3e3e3", "tickSize": -8, "tickColor": "#262626", "domainColor": "#262626", "labelPadding": 16, "labelFontSize": 18, "labelColor": "#262626", "labelFlush": false, "labelOverlap": false, "title": null}},
"y": {"field": "f", "type": "quantitative", "title": "Velocity anomaly (m a⁻¹)",
"scale": {"domain": [-1190, 1645], "nice": false, "zero": false},
"axis": {"values": [-1000, -500, 0, 500, 1000, 1500], "labelExpr": "'' + datum.value", "grid": true, "gridColor": "#e3e3e3", "tickSize": -8, "tickColor": "#262626", "domainColor": "#262626", "labelPadding": 14, "labelFontSize": 18, "labelColor": "#262626", "titleFontSize": 18, "titleColor": "#262626", "titleFontWeight": "normal", "titlePadding": 20}},
"color": {"field": "s", "type": "nominal",
"scale": {"domain": ["I", "II", "III", "IV", "V", "VI"], "range": ["#0072BD", "#D95319", "#EDB120", "#7E2F8E", "#77AC30", "#4DBEEE"]},
"legend": {"orient": "none", "legendX": 779, "legendY": -2, "zindex": 0, "direction": "horizontal", "columns": 3, "gridAlign": "all", "columnPadding": 16, "rowPadding": 4, "clipHeight": 20, "symbolSize": 6400,
"symbolType": "M-1,0L1,0M-0.095,0A0.095,0.095,0,1,1,0.095,0A0.095,0.095,0,1,1,-0.095,0Z",
"symbolStrokeWidth": 1, "labelFont": "Liberation Serif", "labelFontSize": 20, "labelColor": "#000000", "labelOffset": 2, "labelLimit": 0,
"padding": 7, "strokeColor": "#262626", "fillColor": "#ffffff", "cornerRadius": 0,
"title": "\u00a0", "titleFontSize": 10, "titlePadding": 92,
"encode": {"symbols": {"update": {"shape": {"value": "M-1,0L1,0M-0.095,0A0.095,0.095,0,1,1,0.095,0A0.095,0.095,0,1,1,-0.095,0Z"}, "fill": {"scale": "color", "field": "value"}, "stroke": {"scale": "color", "field": "value"}, "strokeWidth": {"value": 1}, "opacity": {"value": 1}}}}}},
"strokeDash": {"datum": "Fitted", "scale": {"range": [[1, 0]]},
"legend": {"orient": "none", "legendX": 788, "legendY": 67, "zindex": 1, "title": null, "padding": 0, "symbolType": "stroke", "symbolSize": 6400, "clipHeight": 22, "symbolStrokeWidth": 1, "symbolStrokeColor": "#a0a0a0",
"labelOffset": 4, "labelFont": "Liberation Sans", "labelFontSize": 19, "labelColor": "#000000",
"encode": {"symbols": {"update": {"stroke": {"value": "#a0a0a0"}, "strokeWidth": {"value": 1}, "strokeDash": {"value": [1, 0]}, "opacity": {"value": 1}}}}}}
}
},
{
"mark": {"type": "point", "filled": true, "size": 36, "opacity": 1, "clip": true},
"encoding": {
"x": {"field": "d", "type": "temporal", "axis": {"orient": "bottom", "tickCount": {"interval": "month", "step": 1}, "grid": false, "domain": false, "labels": false, "tickSize": -5, "tickColor": "#262626", "title": null}},
"y": {"field": "o", "type": "quantitative", "title": "Velocity anomaly (m a⁻¹)"},
"color": {"field": "s", "type": "nominal"},
"shape": {"datum": "Observations", "scale": {"range": ["circle"]},
"legend": {"orient": "none", "legendX": 817, "legendY": 20, "zindex": 1, "title": null, "padding": 0, "symbolSize": 50, "symbolType": "circle", "symbolFillColor": "#6a6a6a", "symbolStrokeColor": "#6a6a6a",
"labelOffset": 38, "labelFont": "Liberation Sans", "labelFontSize": 19, "labelColor": "#000000", "labelLimit": 0,
"labelExpr": "['Observations', '(mean subtracted)']",
"encode": {"symbols": {"update": {"fill": {"value": "#6a6a6a"}, "stroke": {"value": "#6a6a6a"}, "strokeWidth": {"value": 0}, "opacity": {"value": 1}}}, "labels": {"update": {"lineHeight": {"value": 24}}}}}}
}
}
],
"resolve": {"axis": {"x": "independent"}}
}
